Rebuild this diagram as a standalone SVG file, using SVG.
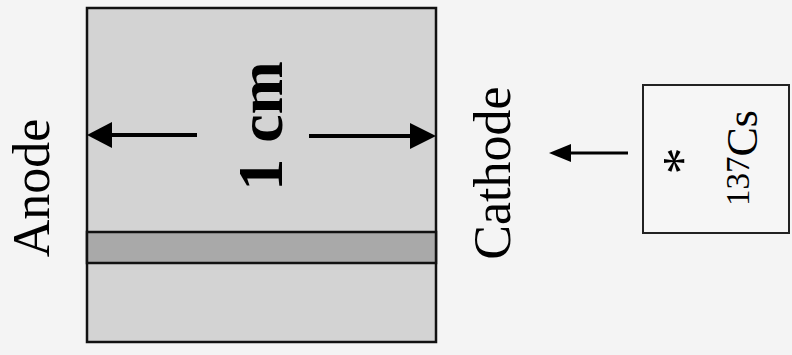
<svg xmlns="http://www.w3.org/2000/svg" width="792" height="355" viewBox="0 0 792 355">
<style>
.t{font-family:"Liberation Serif","Times New Roman",serif;fill:#000}
.b{font-weight:bold}
.ln{stroke:#000;fill:none}
</style>
<rect x="0" y="0" width="792" height="355" fill="#f4f4f4"/>
<g id="detector">
<rect x="87" y="8" width="349" height="334" fill="#d3d3d3" stroke="#111" stroke-width="2.5"/>
<rect x="87" y="232" width="349" height="31" fill="#a9a9a9" stroke="#111" stroke-width="2.5"/>
</g>
<g id="anode">
<text class="t" font-size="52" text-anchor="middle" transform="translate(49,188) rotate(-90)">Anode</text>
</g>
<g id="width-label">
<text class="t b" font-size="64" text-anchor="middle" transform="translate(282,126) rotate(-90)">1 cm</text>
</g>
<g id="cathode">
<text class="t" font-size="52" text-anchor="middle" transform="translate(510,173) rotate(-90)">Cathode</text>
</g>
<g id="source">
<rect x="643" y="85" width="146" height="148" fill="#f6f6f6" stroke="#222" stroke-width="2"/>
<text class="t" font-size="54" font-weight="300" text-anchor="middle" transform="translate(700,161) rotate(-90)">*</text>
<text class="t" transform="translate(757,158) rotate(-90)" text-anchor="middle"><tspan font-size="33" dy="-8">137</tspan><tspan font-size="44" dy="8">Cs</tspan></text>
</g>
<g id="connectors">
<line class="ln" x1="197" y1="135" x2="108" y2="135" stroke-width="4"/>
<polygon points="87,135 112,122 112,148" fill="#000"/>
<line class="ln" x1="309" y1="136" x2="414" y2="136" stroke-width="4"/>
<polygon points="436,136 410,123 410,149" fill="#000"/>
<line class="ln" x1="628" y1="153" x2="566" y2="153" stroke-width="3"/>
<polygon points="549,153 571,144 571,162" fill="#000"/>
</g>
</svg>
